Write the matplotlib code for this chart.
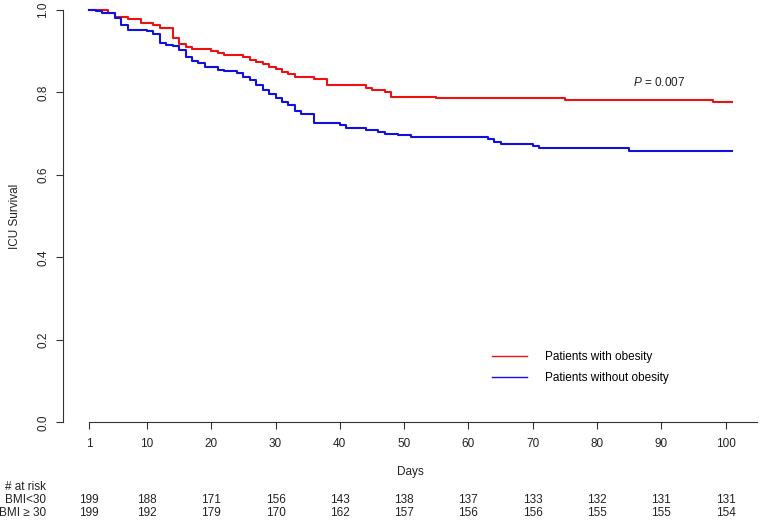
import matplotlib
matplotlib.use("Agg")
import matplotlib.pyplot as plt

plt.rcParams['font.family'] = ['Liberation Sans', 'DejaVu Sans']
plt.rcParams['mathtext.fontset'] = 'custom'
plt.rcParams['mathtext.rm'] = 'Liberation Sans'
plt.rcParams['mathtext.it'] = 'Liberation Sans:italic'

#### survival curves (step times in days, survival after the step) ####
days_obese = [1, 4, 5, 7, 9, 11, 12, 14, 15, 16, 17, 20, 21, 22, 25, 26, 27, 28, 29,
              30, 31, 32, 33, 36, 38, 44, 45, 47, 48, 55, 75, 98, 101]
surv_obese = [1.0, 0.992, 0.982, 0.977, 0.968, 0.963, 0.957, 0.931, 0.917, 0.911, 0.906,
              0.901, 0.896, 0.891, 0.886, 0.879, 0.873, 0.868, 0.862, 0.856, 0.850, 0.845,
              0.838, 0.832, 0.817, 0.812, 0.806, 0.800, 0.790, 0.787, 0.782, 0.776, 0.776]

days_normal = [1, 2, 3, 5, 6, 7, 10, 11, 12, 13, 14, 15, 16, 17, 18, 19, 21, 22, 24, 25,
               26, 27, 28, 29, 30, 31, 32, 33, 34, 36, 40, 41, 44, 46, 47, 49, 51, 63,
               64, 65, 70, 71, 85, 101]
surv_normal = [1.0, 0.997, 0.993, 0.980, 0.964, 0.952, 0.948, 0.942, 0.921, 0.916, 0.912,
               0.902, 0.886, 0.877, 0.871, 0.862, 0.855, 0.851, 0.847, 0.837, 0.830, 0.817,
               0.807, 0.797, 0.787, 0.778, 0.770, 0.755, 0.747, 0.725, 0.721, 0.715, 0.710,
               0.705, 0.700, 0.696, 0.692, 0.687, 0.681, 0.675, 0.670, 0.665, 0.659, 0.659]

#### number at risk table ####
risk_days = [1, 10, 20, 30, 40, 50, 60, 70, 80, 90, 100]
risk_bmi_low = [199, 188, 171, 156, 143, 138, 137, 133, 132, 131, 131]
risk_bmi_high = [199, 192, 179, 170, 162, 157, 156, 156, 155, 155, 154]

y_ticks = [0.0, 0.2, 0.4, 0.6, 0.8, 1.0]

W, H = 762, 522
fig = plt.figure(figsize=(W / 100, H / 100), dpi=100)
ax = fig.add_axes([63 / W, (H - 422.3) / H, (757 - 63) / W, (422.3 - 10) / H])

ax.step(days_obese, surv_obese, where='post', color='#ee1111', lw=1.5,
        clip_on=False, label='Patients with obesity')
ax.step(days_normal, surv_normal, where='post', color='#1111dd', lw=1.5,
        clip_on=False, label='Patients without obesity')

ax.set_xlim(-3.06, 104.9)
ax.set_ylim(0, 1)

for s in ['top', 'right']:
    ax.spines[s].set_visible(False)
ax.spines['bottom'].set_bounds(1, 104.9)
ax.spines['bottom'].set_color('#333333')
ax.spines['left'].set_color('#333333')

ax.set_xticks(risk_days)
ax.set_xticklabels([str(d) for d in risk_days])
ax.set_yticks(y_ticks)
ax.set_yticklabels(['%.1f' % v for v in y_ticks], rotation=90, va='center')
ax.tick_params(axis='x', length=5, width=0.8, pad=6, labelsize=8.5, colors='#333333',
               labelcolor='#222222')
ax.tick_params(axis='y', length=5, width=0.8, pad=5, labelsize=8.5, colors='#333333',
               labelcolor='#222222')

ax.text(85.6, 0.8246, '$P$ = 0.007', fontsize=8.5, ha='left', va='center', color='#222222')

leg = ax.legend(loc='upper left', bbox_to_anchor=(0.6177, 0.173), frameon=False,
                fontsize=8.5, handlelength=3.0, handletextpad=1.5, labelspacing=0.75,
                borderpad=0, borderaxespad=0)
for line in leg.get_lines():
    line.set_linewidth(1.0)

fig.text(15 / W, 1 - 216 / H, 'ICU Survival', rotation=90, ha='center', va='center',
         fontsize=8.5, color='#222222')
fig.text(410 / W, 1 - 472 / H, 'Days', ha='center', va='center', fontsize=8.5,
         color='#222222')

#### at risk rows ####
row_y = [487, 500, 513.5]
fig.text(46 / W, 1 - row_y[0] / H, '# at risk', ha='right', va='center', fontsize=8.5,
         color='#222222')
fig.text(46 / W, 1 - row_y[1] / H, 'BMI<30', ha='right', va='center', fontsize=8.5,
         color='#222222')
fig.text(46 / W, 1 - row_y[2] / H, 'BMI \u2265 30', ha='right', va='center', fontsize=8.5,
         color='#222222')
for d, n1, n2 in zip(risk_days, risk_bmi_low, risk_bmi_high):
    ax.annotate(str(n1), xy=(d, H - row_y[1]), xycoords=('data', 'figure pixels'),
                ha='center', va='center', fontsize=8.5, color='#222222')
    ax.annotate(str(n2), xy=(d, H - row_y[2]), xycoords=('data', 'figure pixels'),
                ha='center', va='center', fontsize=8.5, color='#222222')

fig.savefig('out.png', dpi=100)
